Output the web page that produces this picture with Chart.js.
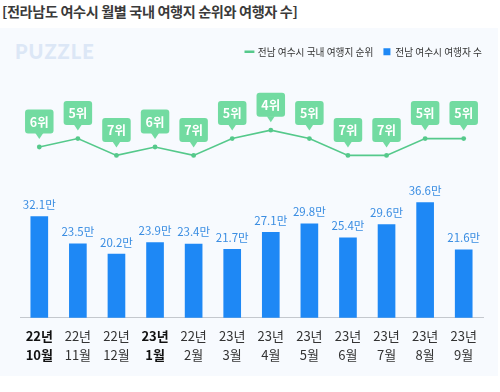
<!DOCTYPE html>
<html>
<head>
<meta charset="utf-8">
<script src="https://cdn.jsdelivr.net/npm/chart.js@4"></script>
<style>
  body { margin: 0; width: 500px; height: 392px; background: #fff; overflow: hidden; position: relative;
         font-family: "Noto Sans CJK KR", sans-serif; }
  #title { position: absolute; left: 2px; top: 1px; font-size: 14.2px; font-weight: bold; color: #3a3a3a;
           letter-spacing: -0.4px; white-space: nowrap; }
  #panel { position: absolute; left: 0; top: 28px; width: 498px; height: 348px; background: #F7FAFE; }
  #logo { position: absolute; left: 15px; top: 11px; font-family: Lato, sans-serif; font-weight: 900;
          font-size: 20px; color: #DCE7F6; letter-spacing: 1px; }
  canvas { position: absolute; left: 0; top: 0; }
</style>
</head>
<body>
<div id="title">[전라남도 여수시 월별 국내 여행지 순위와 여행자 수]</div>
<div id="panel">
  <div id="logo">PUZZLE</div>
  <canvas id="chart" width="498" height="348"></canvas>
</div>
<script>
// chart data
const years = ['22년', '22년', '22년', '23년', '22년', '23년', '23년', '23년', '23년', '23년', '23년', '23년'];
const months = ['10월', '11월', '12월', '1월', '2월', '3월', '4월', '5월', '6월', '7월', '8월', '9월'];
const visitors = [32.1, 23.5, 20.2, 23.9, 23.4, 21.7, 27.1, 29.8, 25.4, 29.6, 36.6, 21.6];
const ranks = [6, 5, 7, 6, 7, 5, 4, 5, 7, 7, 5, 5];
const boldIdx = [0, 3];

const font = '"Noto Sans CJK KR", sans-serif';
const lineColor = '#55C98B';
const tagColor = '#72DBA1';
const barColor = '#1E88F5';

// value labels above bars, rank tags above line points
const labelPlugin = {
  id: 'labels',
  afterDatasetsDraw(chart) {
    const ctx = chart.ctx;
    ctx.save();
    const bars = chart.getDatasetMeta(1).data;
    ctx.font = '11.5px ' + font;
    ctx.fillStyle = '#3A8DE2';
    ctx.textAlign = 'center';
    ctx.textBaseline = 'middle';
    bars.forEach((b, i) => ctx.fillText(visitors[i] + '만', b.x, b.y - 12));

    const pts = chart.getDatasetMeta(0).data;
    ctx.font = 'bold 12.5px ' + font;
    pts.forEach((p, i) => {
      const w = 28.5, h = 24, top = p.y - 37.5, bottom = top + h;
      ctx.fillStyle = tagColor;
      ctx.beginPath();
      ctx.roundRect(p.x - w / 2, top, w, h, 3);
      ctx.fill();
      ctx.beginPath();
      ctx.moveTo(p.x - 4, bottom - 0.5);
      ctx.lineTo(p.x + 4, bottom - 0.5);
      ctx.lineTo(p.x, bottom + 5.5);
      ctx.closePath();
      ctx.fill();
      ctx.fillStyle = '#fff';
      ctx.fillText(ranks[i] + '위', p.x, top + h / 2 + 0.5);
    });
    ctx.restore();
  }
};

new Chart(document.getElementById('chart'), {
  data: {
    labels: years.map((y, i) => [y, months[i]]),
    datasets: [{
      type: 'line',
      label: '전남 여수시 국내 여행지 순위',
      data: ranks,
      yAxisID: 'y2',
      borderColor: lineColor,
      backgroundColor: lineColor,
      borderWidth: 1.6,
      pointRadius: 2.4,
      pointBackgroundColor: lineColor,
      pointBorderWidth: 0,
      tension: 0
    }, {
      type: 'bar',
      label: '전남 여수시 여행자 수',
      data: visitors,
      yAxisID: 'y',
      backgroundColor: barColor,
      borderWidth: 0,
      barThickness: 17
    }]
  },
  options: {
    responsive: false,
    animation: false,
    layout: { padding: { left: 20, right: 6, top: 9, bottom: 10.5 } },
    plugins: {
      tooltip: { enabled: false },
      legend: {
        position: 'top',
        align: 'end',
        labels: {
          usePointStyle: true,
          boxWidth: 7,
          boxHeight: 7,
          padding: 10,
          color: '#333',
          font: { family: font, size: 9.7 },
          generateLabels(chart) {
            const items = Chart.defaults.plugins.legend.labels.generateLabels(chart);
            items.forEach((it, i) => {
              it.pointStyle = i === 0 ? 'line' : 'rect';
              if (i === 0) { it.lineWidth = 2.5; it.strokeStyle = lineColor; }
            });
            return items;
          }
        }
      }
    },
    scales: {
      x: {
        offset: true,
        grid: { display: false },
        border: { color: '#C4C8CE', width: 1 },
        ticks: {
          padding: 1,
          color: (c) => boldIdx.includes(c.index) ? '#111' : '#333',
          font: (c) => ({ family: font, size: 13, lineHeight: 1.45,
                          weight: boldIdx.includes(c.index) ? 'bold' : 'normal' })
        }
      },
      y: { display: false, min: 0, max: 79.7 },
      // invisible right axis only keeps room on the right of the bars
      y2: {
        position: 'right', reverse: true, min: -3.56, max: 26.34,
        grid: { display: false }, border: { display: false }, ticks: { display: false },
        afterFit: (s) => { s.width = 9; }
      }
    }
  },
  plugins: [labelPlugin]
});
</script>
</body>
</html>
